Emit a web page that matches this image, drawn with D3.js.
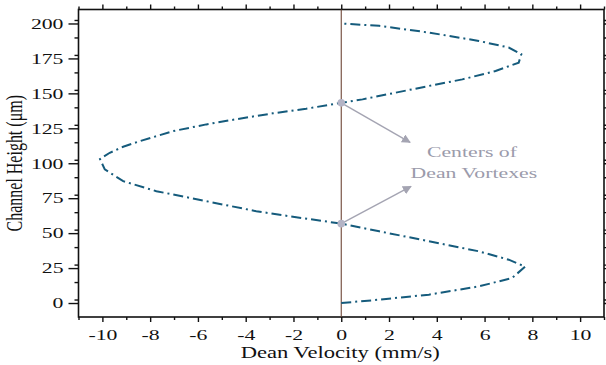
<!DOCTYPE html>
<html lang="en">
<head>
  <meta charset="UTF-8">
  <title>Dean Velocity</title>
  <style>
    body { margin: 0; background: #fff; }
    svg text { font-family: "Liberation Serif", "Times New Roman", serif; }
  </style>
</head>
<body>
  <svg id="svg" width="606" height="365"></svg>
  <script src="https://d3js.org/d3.v7.min.js"></script>
  <script>
    // channel height (um) and dean velocity (mm/s)
    const heights = [0, 2.4, 6, 11.9, 17.9, 26, 31, 37, 44.2, 51.3, 56.8, 62.1, 65.7, 70.5, 75.3, 80, 87.2, 95.6, 103, 107.5, 111.8, 115.8, 123, 127.8, 131.9, 135.7, 139, 143.2, 145.7, 150.5, 155.3, 160, 166, 172, 178, 182.8, 187.5, 193.5, 198.3, 200]
    const velocity = [0, 1.59, 3.67, 5.76, 7.15, 7.7, 7.01, 5.76, 3.67, 1.59, 0, -2.17, -3.56, -4.96, -6.35, -7.74, -9.13, -9.9, -10.1, -9.69, -9.13, -8.43, -7.04, -5.65, -4.26, -2.87, -1.47, 0, 0.89, 2.28, 3.67, 5.07, 6.46, 7.43, 7.54, 7.01, 5.76, 3.67, 1.59, 0]

    const xTicks = [-10, -8, -6, -4, -2, 0, 2, 4, 6, 8, 10]
    const yTicks = [0, 25, 50, 75, 100, 125, 150, 175, 200]

    // vortex centres (velocity, height) and where the arrows point to
    const centers = [[0, 56.8], [0, 143.2]]
    const arrowTips = [[2.92, 83.4], [2.88, 114.9]]
    const noteLines = [['Centers of', 5.47, 104.2], ['Dean Vortexes', 5.55, 89.8]]

    const svg = d3.select('#svg')
    const sx = 1.45 // the source image is stretched sideways

    const x = d3.scaleLinear().domain([-11, 11]).range([78.5, 604])
    const y = d3.scaleLinear().domain([-10, 210]).range([317, 9.5])

    const plotLeft = x.range()[0], plotRight = x.range()[1]
    const plotTop = y.range()[1], plotBottom = y.range()[0]

    const stretch = (sel) => sel.each(function () {
      const t = d3.select(this)
      const x0 = +t.attr('x') || 0
      t.attr('x', 0).attr('transform', `translate(${x0},0) scale(${sx},1)`)
    })

    const xMinor = d3.range(-11, 12, 1).filter(d => d % 2 !== 0)
    const yMinor = d3.range(-10, 211, 12.5).filter(d => d % 25 !== 0 && d > -10)

    // minor ticks
    svg.append('g').attr('transform', `translate(0,${plotBottom})`)
      .call(d3.axisBottom(x).tickValues(xMinor).tickSize(3).tickFormat(''))
    svg.append('g').attr('transform', `translate(0,${plotTop})`)
      .call(d3.axisTop(x).tickValues(xMinor).tickSize(3).tickFormat(''))
    svg.append('g').attr('transform', `translate(${plotLeft},0)`)
      .call(d3.axisLeft(y).tickValues(yMinor).tickSize(4).tickFormat(''))
    svg.append('g').attr('transform', `translate(${plotRight},0)`)
      .call(d3.axisLeft(y).tickValues(yMinor).tickSize(-3).tickFormat(''))

    // major ticks
    svg.append('g').attr('transform', `translate(0,${plotBottom})`)
      .call(d3.axisBottom(x).tickValues(xTicks).tickSize(5).tickPadding(7).tickFormat(d => String(d)))
    svg.append('g').attr('transform', `translate(0,${plotTop})`)
      .call(d3.axisTop(x).tickValues(xTicks).tickSize(5).tickFormat(''))
    svg.append('g').attr('transform', `translate(${plotLeft},0)`)
      .call(d3.axisLeft(y).tickValues(yTicks).tickSize(10).tickPadding(5).tickFormat(d => String(d)))
    svg.append('g').attr('transform', `translate(${plotRight},0)`)
      .call(d3.axisLeft(y).tickValues(yTicks).tickSize(-4).tickFormat(''))

    svg.selectAll('.domain').remove()
    svg.selectAll('.tick line').attr('stroke', '#111').attr('stroke-width', 1.4)

    svg.selectAll('.tick text')
      .attr('font-size', 15)
      .attr('fill', '#111')
      .call(stretch)

    // frame
    svg.append('rect')
      .attr('x', plotLeft).attr('y', plotTop)
      .attr('width', plotRight - plotLeft).attr('height', plotBottom - plotTop)
      .attr('fill', 'none').attr('stroke', '#111').attr('stroke-width', 1.6)

    // zero line
    svg.append('line')
      .attr('x1', x(0)).attr('x2', x(0))
      .attr('y1', plotTop).attr('y2', plotBottom)
      .attr('stroke', '#6e4636').attr('stroke-width', 1.1)

    // velocity profile
    const points = heights.map((h, i) => [velocity[i], h])
    const line = d3.line().x(d => x(d[0])).y(d => y(d[1]))
    svg.append('path')
      .datum(points)
      .attr('d', line)
      .attr('fill', 'none')
      .attr('stroke', '#155b7c')
      .attr('stroke-width', 2)
      .attr('stroke-dasharray', '10,4,2,4')

    // annotation
    svg.append('defs').append('marker')
      .attr('id', 'arrow')
      .attr('viewBox', '0 0 10 10')
      .attr('refX', 9).attr('refY', 5)
      .attr('markerWidth', 9).attr('markerHeight', 9)
      .attr('markerUnits', 'userSpaceOnUse')
      .attr('orient', 'auto')
      .append('path')
      .attr('d', 'M0,0 L10,5 L0,10 z')
      .attr('fill', '#a4a4b2')

    svg.append('g').selectAll('line')
      .data(centers)
      .enter()
      .append('line')
      .attr('x1', d => x(d[0])).attr('y1', d => y(d[1]))
      .attr('x2', (d, i) => x(arrowTips[i][0])).attr('y2', (d, i) => y(arrowTips[i][1]))
      .attr('stroke', '#a4a4b2').attr('stroke-width', 1.4)
      .attr('marker-end', 'url(#arrow)')

    svg.append('g').selectAll('circle')
      .data(centers)
      .enter()
      .append('circle')
      .attr('cx', d => x(d[0])).attr('cy', d => y(d[1]))
      .attr('r', 3.8)
      .attr('fill', '#b4b4c6')

    svg.append('g').selectAll('text')
      .data(noteLines)
      .enter()
      .append('text')
      .attr('transform', d => `translate(${x(d[1])},${y(d[2])}) scale(${sx},1)`)
      .attr('text-anchor', 'middle')
      .attr('font-size', 15)
      .attr('fill', '#9b9bab')
      .text(d => d[0])

    // axis titles
    svg.append('text')
      .attr('transform', `translate(${(plotLeft + plotRight) / 2 - 1},358) scale(1.33,1)`)
      .attr('text-anchor', 'middle')
      .attr('font-size', 17)
      .attr('fill', '#111')
      .text('Dean Velocity (mm/s)')

    svg.append('text')
      .attr('transform', `translate(22,${(plotTop + plotBottom) / 2}) scale(${sx},1) rotate(-90)`)
      .attr('text-anchor', 'middle')
      .attr('font-size', 16)
      .attr('fill', '#111')
      .text('Channel Height (μm)')
  </script>
</body>
</html>
